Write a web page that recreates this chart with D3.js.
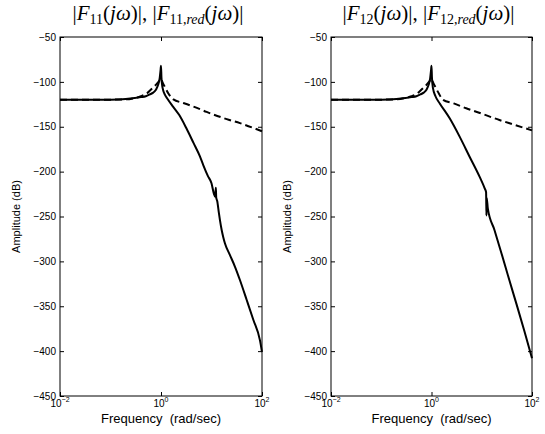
<!DOCTYPE html>
<html>
<head>
<meta charset="utf-8">
<script src="https://cdn.jsdelivr.net/npm/d3@7"></script>
<style>
body { margin: 0; background: #fff; }
svg { display: block; }
.tick text { font-family: "Liberation Sans", Arial, sans-serif; font-size: 10px; fill: #000; }
.lbl { font-family: "Liberation Sans", Arial, sans-serif; fill: #000; white-space: pre; }
.ttl { font-family: "Liberation Serif", "DejaVu Serif", serif; fill: #000; }
</style>
</head>
<body>
<div id="chart"></div>
<script>
// frequency (rad/sec) and amplitude (dB)
var w11 = [0.01, 0.05, 0.1, 0.2, 0.3, 0.4, 0.5, 0.6, 0.7, 0.8, 0.88, 0.94, 0.98, 1.0, 1.02, 1.05, 1.1, 1.2, 1.35, 1.73, 2.3, 3.2, 4.4, 5.9, 6.9, 8.5, 10, 11.2, 11.8, 12.2, 12.4, 13, 14, 14.7, 15.9, 17.1, 18.5, 23.2, 29.2, 36.7, 49.8, 67.3, 91.2, 100];
var mag11 = [-120, -120, -119.8, -119, -118, -117, -116, -114, -112, -108.5, -103, -96, -87, -82, -95, -103, -109, -114.5, -119, -127.5, -137, -152, -168, -183, -193, -205, -213, -225, -228, -218, -229, -233, -246, -254, -265, -273, -280, -293, -306, -321, -343, -365, -388, -401];
var w11red = [0.01, 0.1, 0.2, 0.3, 0.4, 0.52, 0.65, 0.8, 0.92, 1.0, 1.08, 1.2, 1.4, 1.76, 2.77, 4.4, 8, 20, 36.6, 100];
var mag11red = [-120, -119.8, -119.5, -118, -116, -113, -108, -103, -99, -96.5, -101, -106, -113, -119.5, -123.5, -127.5, -133.5, -141.5, -146, -155];

var w12 = [0.01, 0.05, 0.1, 0.2, 0.3, 0.4, 0.5, 0.6, 0.7, 0.8, 0.88, 0.94, 0.98, 1.0, 1.02, 1.07, 1.2, 1.46, 2.3, 3.63, 5.73, 9.04, 11.5, 12.2, 12.4, 12.55, 13.2, 17.9, 25, 35, 50, 70, 100];
var mag12 = [-120, -120, -119.8, -119, -118, -117, -116, -114, -112, -108.5, -103, -96, -87, -82, -95, -107, -116, -124, -140.6, -161, -183.4, -205.6, -219, -223, -249, -229, -241, -265, -292, -320, -349, -377, -408];
var w12red = [0.01, 0.1, 0.2, 0.3, 0.4, 0.52, 0.65, 0.8, 0.92, 1.0, 1.08, 1.2, 1.4, 1.7, 2.77, 4.9, 8, 22.5, 40, 100];
var mag12red = [-120, -119.8, -119.5, -118, -116, -113, -108, -103, -99, -96.5, -101, -106, -113, -120, -124, -129.4, -133.5, -142.5, -147, -154];

var yTicks = [-450, -400, -350, -300, -250, -200, -150, -100, -50];
var xTicks = [0.01, 1, 100];
var xExp = ["\u22122", "0", "2"];

var panels = [
    { left: 60, right: 262, sub: "11", solid: [w11, mag11], dashed: [w11red, mag11red] },
    { left: 331, right: 532, sub: "12", solid: [w12, mag12], dashed: [w12red, mag12red] }
];

var plotTop = 37, plotBottom = 396;

var svg = d3.select("#chart").append("svg")
    .attr("width", 545)
    .attr("height", 434);

function zip(a) {
    return a[0].map(function(w, i) { return [w, a[1][i]]; });
}

panels.forEach(function(p) {
    var x = d3.scaleLog().domain([1e-2, 1e2]).range([p.left, p.right]);
    var y = d3.scaleLinear().domain([-450, -50]).range([plotBottom, plotTop]);
    var g = svg.append("g");

    // curves
    var line = d3.line()
        .x(function(d) { return x(d[0]); })
        .y(function(d) { return y(d[1]); })
        .curve(d3.curveMonotoneX);

    g.append("path")
        .datum(zip(p.dashed))
        .attr("d", line)
        .attr("fill", "none")
        .attr("stroke", "#000")
        .attr("stroke-width", 2)
        .attr("stroke-dasharray", "7,4");

    g.append("path")
        .datum(zip(p.solid))
        .attr("d", line)
        .attr("fill", "none")
        .attr("stroke", "#000")
        .attr("stroke-width", 2);

    // axes, ticks pointing inward on all four sides
    var yl = g.append("g").attr("transform", "translate(" + p.left + ",0)")
        .call(d3.axisLeft(y).tickValues(yTicks).tickSize(-4).tickPadding(4));
    var yr = g.append("g").attr("transform", "translate(" + p.right + ",0)")
        .call(d3.axisRight(y).tickValues(yTicks).tickSize(-4).tickFormat(""));
    var xb = g.append("g").attr("transform", "translate(0," + plotBottom + ")")
        .call(d3.axisBottom(x).tickValues(xTicks).tickSize(-4).tickFormat(""));
    var xt = g.append("g").attr("transform", "translate(0," + plotTop + ")")
        .call(d3.axisTop(x).tickValues(xTicks).tickSize(-4).tickFormat(""));
    [yl, yr, xb, xt].forEach(function(a) {
        a.select(".domain").remove();
        a.selectAll("line").attr("stroke", "#000");
    });

    g.append("rect")
        .attr("x", p.left).attr("y", plotTop)
        .attr("width", p.right - p.left).attr("height", plotBottom - plotTop)
        .attr("fill", "none").attr("stroke", "#000").attr("stroke-width", 1);

    // x tick labels 10^n
    xTicks.forEach(function(t, i) {
        var tx = g.append("text").attr("class", "lbl")
            .attr("x", x(t)).attr("y", 407)
            .attr("text-anchor", "middle")
            .style("font-size", "10px");
        tx.append("tspan").text("10");
        tx.append("tspan").attr("dy", -5).style("font-size", "7px").text(xExp[i]);
    });

    var cx = (p.left + p.right) / 2;
    g.append("text").attr("class", "lbl")
        .attr("x", cx).attr("y", 423)
        .attr("text-anchor", "middle")
        .style("font-size", "13px")
        .text("Frequency  (rad/sec)");

    g.append("text").attr("class", "lbl")
        .attr("transform", "translate(" + (p.left - 40) + "," + ((plotTop + plotBottom) / 2) + ") rotate(-90)")
        .attr("text-anchor", "middle")
        .style("font-size", "11px")
        .text("Amplitude (dB)");

    // title |F_ij(jw)|, |F_ij,red(jw)|
    var tt = g.append("text").attr("class", "ttl")
        .attr("x", cx - 3).attr("y", 20)
        .attr("text-anchor", "middle")
        .style("font-size", "21px");
    var parts = [
        ["|", "n", 0], ["F", "i", 0], [p.sub, "n", 4], ["(", "n", -4], ["j", "i", 0], ["\u03c9", "i", 0], [")|, |", "n", 0],
        ["F", "i", 0], [p.sub + ",", "n", 4], ["red", "i", 0], ["(", "n", -4], ["j", "i", 0], ["\u03c9", "i", 0], [")|", "n", 0]
    ];
    parts.forEach(function(q, k) {
        var s = tt.append("tspan").text(q[0]);
        if (q[1] == "i") s.style("font-style", "italic");
        if (q[2] != 0) s.attr("dy", q[2]);
        if (q[2] == 4 || (k == 9)) s.style("font-size", "14px");
    });
});
</script>
</body>
</html>
